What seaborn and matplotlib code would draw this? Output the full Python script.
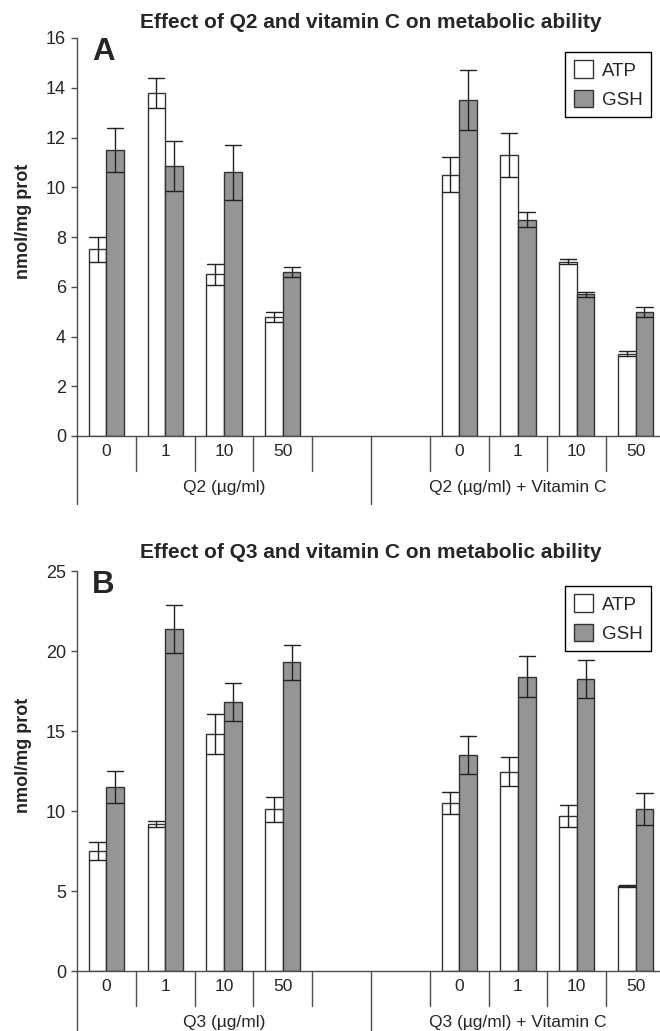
import numpy as np
import pandas as pd
import matplotlib
matplotlib.use("Agg")
import matplotlib.pyplot as plt
import matplotlib.transforms as mtransforms
import seaborn as sns

# category slots: 4 doses, 2 empty spacers, 4 doses with vitamin C
doses = ["0", "1", "10", "50"]
slot_order = ["q0", "q1", "q10", "q50", "gap1", "gap2", "c0", "c1", "c10", "c50"]
slot_labels = ["0", "1", "10", "50", "", "", "0", "1", "10", "50"]
series = ["ATP", "GSH"]

# Panel A: Q2
a_atp_q = [7.5, 13.8, 6.5, 4.8]
a_atp_q_err = [0.5, 0.6, 0.43, 0.2]
a_gsh_q = [11.5, 10.85, 10.6, 6.6]
a_gsh_q_err = [0.9, 1.0, 1.1, 0.2]
a_atp_c = [10.5, 11.3, 7.0, 3.3]
a_atp_c_err = [0.7, 0.9, 0.1, 0.1]
a_gsh_c = [13.5, 8.7, 5.7, 5.0]
a_gsh_c_err = [1.2, 0.3, 0.1, 0.2]

# Panel B: Q3
b_atp_q = [7.5, 9.2, 14.8, 10.1]
b_atp_q_err = [0.55, 0.2, 1.25, 0.8]
b_gsh_q = [11.5, 21.4, 16.8, 19.3]
b_gsh_q_err = [1.0, 1.5, 1.2, 1.1]
b_atp_c = [10.5, 12.45, 9.7, 5.3]
b_atp_c_err = [0.7, 0.9, 0.7, 0.05]
b_gsh_c = [13.5, 18.4, 18.25, 10.1]
b_gsh_c_err = [1.2, 1.3, 1.2, 1.0]

sns.set_style("ticks")
plt.rcParams["font.family"] = ["Liberation Sans", "DejaVu Sans"]

AXIS_COL = "#4d4d4d"
GRAY = "#939598"
FS = 12.5


def make_frame(atp_q, atp_q_err, gsh_q, gsh_q_err, atp_c, atp_c_err, gsh_c, gsh_c_err):
    # two rows per bar (mean - err, mean + err); seaborn gives mean and min/max interval
    rows = []
    for prefix, atp, atp_e, gsh, gsh_e in [("q", atp_q, atp_q_err, gsh_q, gsh_q_err),
                                           ("c", atp_c, atp_c_err, gsh_c, gsh_c_err)]:
        for d, v1, e1, v2, e2 in zip(doses, atp, atp_e, gsh, gsh_e):
            for sign in (-1, 1):
                rows.append({"slot": prefix + d, "series": "ATP", "val": v1 + sign * e1})
                rows.append({"slot": prefix + d, "series": "GSH", "val": v2 + sign * e2})
    return pd.DataFrame(rows)


def draw_panel(fig, rect, df, ymax, ystep, title, title_y, letter, letter_y, groups, legend_top):
    ax = fig.add_axes(rect)
    sns.barplot(data=df, x="slot", y="val", hue="series", order=slot_order, hue_order=series,
                palette={"ATP": "white", "GSH": GRAY}, width=0.6, estimator="mean",
                errorbar=lambda v: (v.min(), v.max()), capsize=0.55,
                err_kws={"color": "#222222", "linewidth": 1.0},
                edgecolor="#333333", linewidth=1.0, ax=ax)
    ax.set_xlim(-0.5, 9.5)
    ax.set_ylim(0, ymax)
    ax.set_yticks(np.arange(0, ymax + 0.1, ystep))
    ax.set_xticks(range(len(slot_order)))
    ax.set_xticklabels(slot_labels)
    ax.set_xlabel("")
    ax.set_ylabel("nmol/mg prot", fontsize=13, fontweight="bold")
    ax.yaxis.set_label_coords(-0.077, 0.54)
    ax.tick_params(axis="x", length=0, pad=5.5, labelsize=FS)
    ax.tick_params(axis="y", length=4, width=1, color=AXIS_COL, pad=4, labelsize=FS + 0.5, direction="out")
    for s in ["top", "right"]:
        ax.spines[s].set_visible(False)
    for s in ["left", "bottom"]:
        ax.spines[s].set_color(AXIS_COL)
        ax.spines[s].set_linewidth(1.0)

    # category separators below the axis
    trans = mtransforms.blended_transform_factory(ax.transData, ax.transAxes)
    for xb in np.arange(-0.5, 10, 1.0):
        depth = 0.17 if xb in (-0.5, 4.5, 9.5) else 0.088
        ax.plot([xb, xb], [0, -depth], transform=trans, clip_on=False, color=AXIS_COL, lw=1.0)
    ax.text(2.0, -0.13, groups[0], transform=trans, ha="center", va="center", fontsize=FS)
    ax.text(7.0, -0.13, groups[1], transform=trans, ha="center", va="center", fontsize=FS)

    ax.legend(loc="upper right", bbox_to_anchor=(651 / 660, 1 - legend_top / 1031),
              bbox_transform=fig.transFigure, frameon=True, fancybox=False, edgecolor="black",
              framealpha=1, fontsize=FS + 1, handlelength=1.05, handleheight=1.05,
              borderpad=0.45, labelspacing=0.55, handletextpad=0.45, borderaxespad=0)
    ax.get_legend().get_frame().set_linewidth(1.0)

    fig.text(371 / 660, 1 - title_y / 1031, title, ha="center", va="center",
             fontsize=15, fontweight="bold")
    fig.text(92 / 660, 1 - letter_y / 1031, letter, ha="left", va="top",
             fontsize=22.5, fontweight="bold")
    return ax


fig = plt.figure(figsize=(6.6, 10.31), dpi=100)

df_a = make_frame(a_atp_q, a_atp_q_err, a_gsh_q, a_gsh_q_err, a_atp_c, a_atp_c_err, a_gsh_c, a_gsh_c_err)
df_b = make_frame(b_atp_q, b_atp_q_err, b_gsh_q, b_gsh_q_err, b_atp_c, b_atp_c_err, b_gsh_c, b_gsh_c_err)

draw_panel(fig, [77 / 660, (1031 - 436) / 1031, 588 / 660, 398 / 1031], df_a, 16, 2,
           "Effect of Q2 and vitamin C on metabolic ability", 22, "A", 37,
           ["Q2 (µg/ml)", "Q2 (µg/ml) + Vitamin C"], 52)
draw_panel(fig, [77 / 660, (1031 - 971) / 1031, 588 / 660, 400 / 1031], df_b, 25, 5,
           "Effect of Q3 and vitamin C on metabolic ability", 553, "B", 570,
           ["Q3 (µg/ml)", "Q3 (µg/ml) + Vitamin C"], 586)

fig.savefig("out.png", dpi=100)
